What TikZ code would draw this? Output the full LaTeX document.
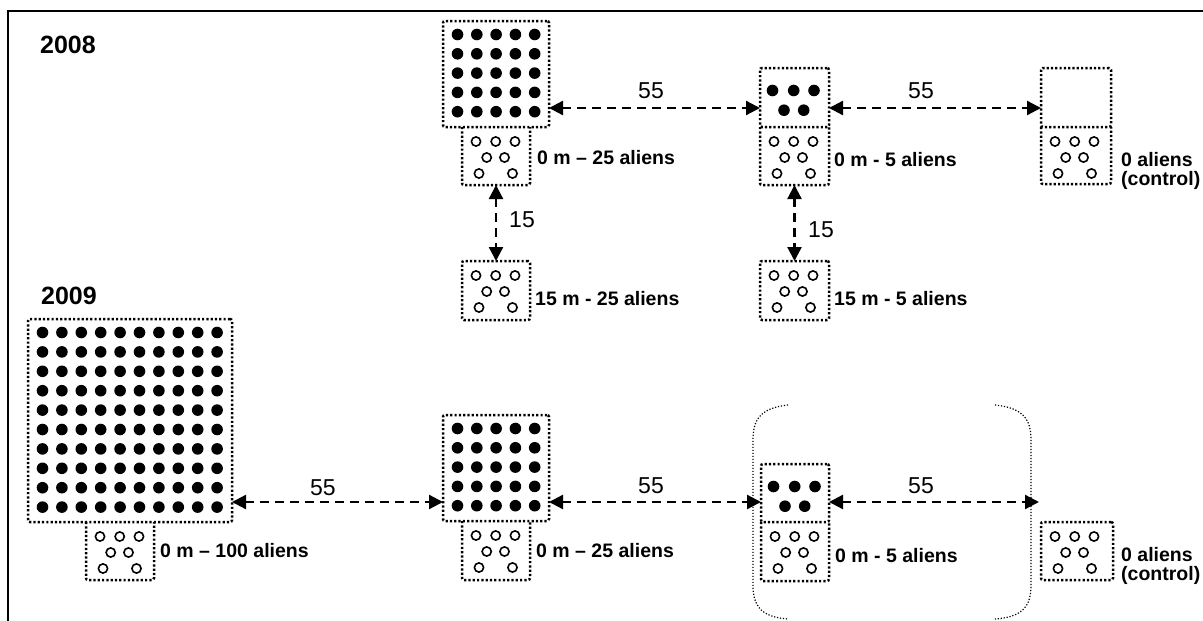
\documentclass[tikz,border=0pt]{standalone}
\usepackage{fontspec}
\setmainfont{Liberation Sans}
\usetikzlibrary{arrows.meta,calc}
\newcommand\mygrid[3]{% node, n, spacing
  \foreach \i in {1,...,#2} \foreach \j in {1,...,#2}
    \fill ($(#1.north west)+({14.5+#3*(\i-1)},{13.5+#3*(\j-1)})$) circle (5.8pt);}
\newcommand\myfive[1]{%
  \foreach \a/\b in {12.5/22.5,33.7/22.5,54/22.5,24/42.2,43.7/42.2}
    \fill ($(#1.north west)+(\a,\b)$) circle (5.8pt);}
\newcommand\myrings[1]{%
  \foreach \a/\b in {14/14.5,33.7/14.5,53/14.5,24.7/30.5,42.5/30.5,17/46.5,50.5/46.5}
    \draw[ring] ($(#1.north west)+(\a,\b)$) circle (4.6pt);}
\newcommand\myopen[1]{%
  \draw[dotl] (#1.north west) -- (#1.south west) -- (#1.south east) -- (#1.north east);}
\begin{document}
\begin{tikzpicture}[x=1pt,y=-1pt,
  dotl/.style={line width=2.5pt, dash pattern=on 2.2pt off 2.1pt, rounded corners=2pt},
  box/.style={draw, dotl, inner sep=0pt, outer sep=0pt, anchor=north west},
  sub/.style={inner sep=0pt, outer sep=0pt, anchor=north west},
  ring/.style={draw, line width=1.6pt},
  conn/.style={line width=2.3pt, dash pattern=on 9pt off 6pt,
    {Triangle[length=14pt,width=14pt]}-{Triangle[length=14pt,width=14pt]}},
  lab/.style={font=\bfseries\fontsize{19.5}{19}\selectfont, anchor=west, inner sep=0pt, align=left},
  num/.style={font=\fontsize{23}{23}\selectfont, inner sep=0pt},
  yr/.style={font=\bfseries\fontsize{25}{25}\selectfont, inner sep=0pt},
  bracket/.style={line width=1.2pt, dash pattern=on 1.2pt off 1.8pt}
]
\useasboundingbox (0,0) rectangle (1203,621);
% frame
\draw[line width=2pt] (8,621) -- (8,11) -- (1203,11);
% years
\node[yr] (y08) at (68,45) {2008};
\node[yr] (y09) at (69,296) {2009};
% ---------------- 2008
\node[box, minimum width=106pt, minimum height=106pt] (A) at (443,21) {};
\node[sub, minimum width=68pt, minimum height=58pt] (As) at (462,127) {};
\node[box, minimum width=69pt, minimum height=59pt] (Bu) at (760,68) {};
\node[sub, minimum width=69pt, minimum height=58pt] (Bs) at (760,127) {};
\node[box, minimum width=70pt, minimum height=59pt] (Cu) at (1041,68) {};
\node[sub, minimum width=70pt, minimum height=57pt] (Cs) at (1041,127) {};
\node[box, minimum width=68pt, minimum height=59pt] (D) at (462,261) {};
\node[box, minimum width=69pt, minimum height=59pt] (E) at (760,261) {};
\myopen{As}\myopen{Bs}\myopen{Cs}
\mygrid{A}{5}{19.3}
\myfive{Bu}
\myrings{As}\myrings{Bs}\myrings{Cs}\myrings{D}\myrings{E}
\node[lab] (lA) at (537,158) {0 m – 25 aliens};
\node[lab] (lB) at (834,160) {0 m - 5 aliens};
\node[lab] (lC) at (1121,171) {0 aliens\\(control)};
\node[lab] (lD) at (535,299) {15 m - 25 aliens};
\node[lab] (lE) at (834,299) {15 m - 5 aliens};
\coordinate (r1) at (0,108);
\draw[conn] (A.east |- r1) -- (Bu.west |- r1);
\draw[conn] (Bu.east |- r1) -- (Cu.west |- r1);
\draw[conn] (As.south) -- (D.north);
\draw[conn] (Bs.south) -- (E.north);
\node[num] (n1) at (651,91) {55};
\node[num] (n2) at (921,91) {55};
\node[num] (n3) at (522,220) {15};
\node[num] (n4) at (821,230) {15};
% ---------------- 2009
\node[box, minimum width=204pt, minimum height=203pt] (F) at (28,319) {};
\node[sub, minimum width=68pt, minimum height=58pt] (Fs) at (86,522) {};
\node[box, minimum width=106pt, minimum height=106pt] (G) at (443,415) {};
\node[sub, minimum width=68pt, minimum height=59pt] (Gs) at (462,521) {};
\node[box, minimum width=68pt, minimum height=58pt] (Hu) at (761,464) {};
\node[sub, minimum width=68pt, minimum height=59pt] (Hs) at (761,522) {};
\node[box, minimum width=72pt, minimum height=58pt] (I) at (1041,522) {};
\myopen{Fs}\myopen{Gs}\myopen{Hs}
\mygrid{F}{10}{19.4}
\mygrid{G}{5}{19.3}
\myfive{Hu}
\myrings{Fs}\myrings{Gs}\myrings{Hs}\myrings{I}
\node[lab] (lF) at (160,551) {0 m – 100 aliens};
\node[lab] (lG) at (536,551) {0 m – 25 aliens};
\node[lab] (lH) at (835,556) {0 m - 5 aliens};
\node[lab] (lI) at (1121,566) {0 aliens\\(control)};
\coordinate (r2) at (0,502);
\coordinate (brR) at (1039,502);
\draw[conn] (F.east |- r2) -- (G.west |- r2);
\draw[conn] (G.east |- r2) -- (Hu.west |- r2);
\draw[conn] (Hu.east |- r2) -- (brR);
\node[num] (n5) at (323,488) {55};
\node[num] (n6) at (651,486) {55};
\node[num] (n7) at (921,486) {55};
% brackets
\draw[bracket] (788,405) .. controls (760,408) and (753,420) .. (753,440) -- (753,585)
  .. controls (753,605) and (760,617) .. (788,619);
\draw[bracket] (995,405) .. controls (1024,408) and (1031,420) .. (1031,440) -- (1031,585)
  .. controls (1031,605) and (1024,617) .. (995,619);
\end{tikzpicture}
\end{document}
